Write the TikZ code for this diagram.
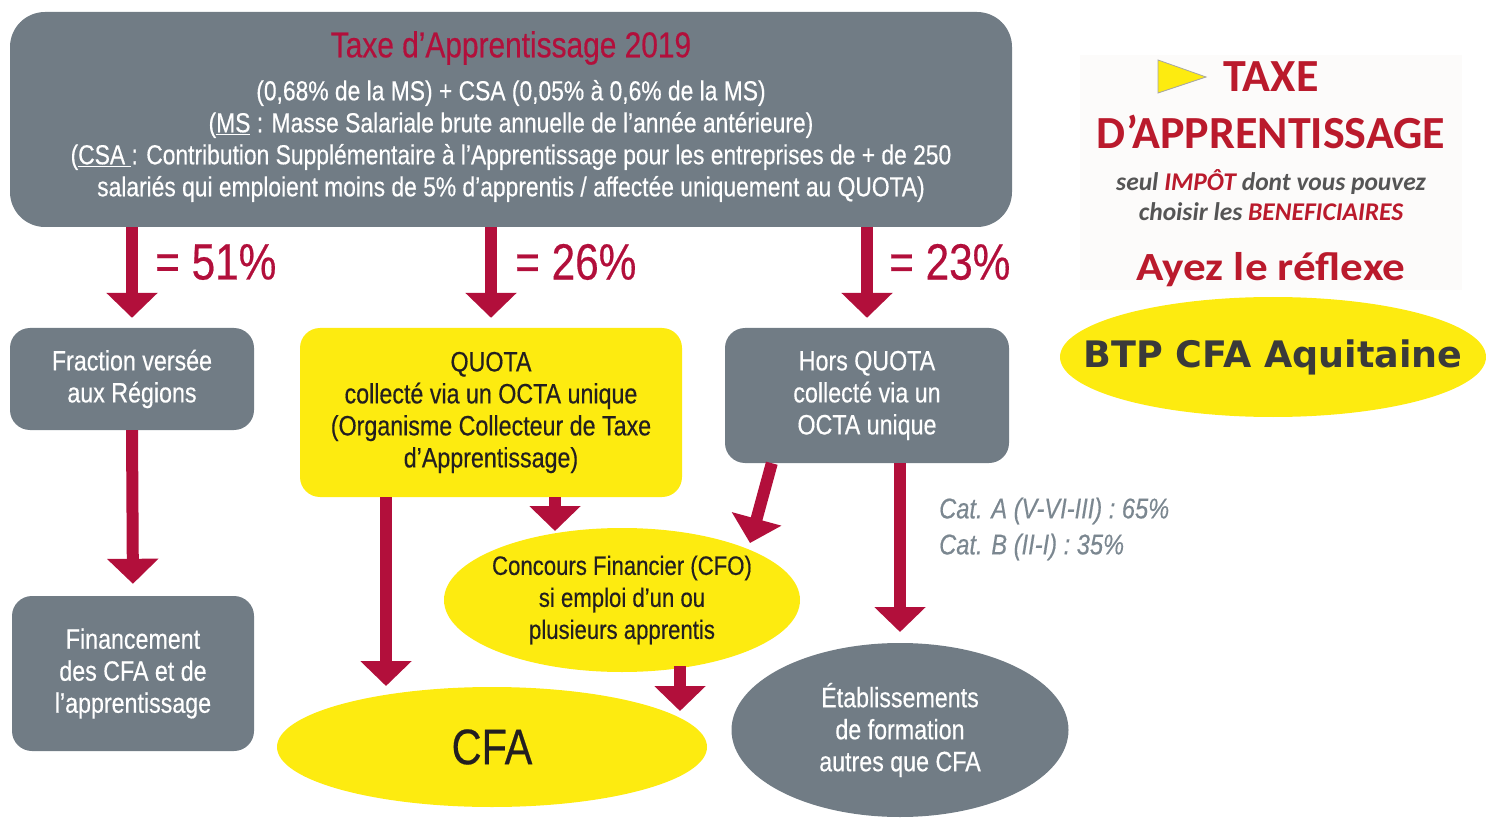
\documentclass[tikz,border=0pt]{standalone}
\usepackage{graphicx}
\usepackage{fontspec}
\setmainfont{Liberation Sans}[FakeStretch=0.83,FakeBold=0.4]
\newfontfamily\logofont{Carlito}
\newfontfamily\btpfont{DejaVu Sans}
\usetikzlibrary{arrows.meta,shapes.geometric,calc}
\definecolor{tgray}{HTML}{717C85}
\definecolor{tred}{HTML}{B20F3B}
\definecolor{tyellow}{HTML}{FDEB10}
\definecolor{ttext}{HTML}{231F20}
\definecolor{catgray}{HTML}{7B8790}
\definecolor{logored}{HTML}{BA1A2C}
\definecolor{logogray}{HTML}{555555}
\definecolor{btptext}{HTML}{3A3A3A}
\definecolor{logobg}{HTML}{FCFBFA}
\begin{document}
\begin{tikzpicture}[x=1pt,y=-1pt,
  graybox/.style={fill=tgray, rounded corners=20pt, text=white, align=center, inner sep=0pt,
    font=\fontsize{28}{32}\selectfont},
  yellowbox/.style={fill=tyellow, rounded corners=20pt, text=ttext, align=center, inner sep=0pt,
    font=\fontsize{28}{32}\selectfont},
  yellowell/.style={ellipse, fill=tyellow, inner sep=0pt},
  grayell/.style={ellipse, fill=tgray, inner sep=0pt},
  elltext/.style={align=center, inner sep=0pt, font=\fontsize{28}{32}\selectfont},
  arr/.style={draw=tred, fill=tred, line width=12pt, -{Triangle[width=50pt,length=25pt]}},
  pct/.style={anchor=west, text=tred, inner sep=0pt, font=\fontsize{51}{56}\selectfont},
  logo/.style={inner sep=0pt, font=\logofont\bfseries}
]
\useasboundingbox (0,0) rectangle (1486,818);

% top box
\node[graybox, minimum width=1002pt, minimum height=215pt, rounded corners=35pt] (top) at (511,119.5) {};
\node[inner sep=0pt, text=tred, font=\fontsize{36}{40}\selectfont] (title) at (511,48) {Taxe d’Apprentissage 2019};
\node[inner sep=0pt, text=white, align=center, font=\fontsize{27.5}{32}\selectfont] (toptext) at (511,141)
  {(0,68\% de la MS) + CSA (0,05\% à 0,6\% de la MS)\\
   (\underline{MS} : Masse Salariale brute annuelle de l’année antérieure)\\
   (\underline{CSA }: Contribution Supplémentaire à l’Apprentissage pour les entreprises de + de 250\\
   salariés qui emploient moins de 5\% d’apprentis / affectée uniquement au QUOTA)};

% second row
\node[graybox, minimum width=244pt, minimum height=102pt] (frac) at (132,379) {Fraction versée\\aux Régions};
\node[yellowbox, minimum width=382pt, minimum height=169pt] (quota) at (491,412.5)
  {QUOTA\\collecté via un OCTA unique\\(Organisme Collecteur de Taxe\\d’Apprentissage)};
\node[graybox, minimum width=284pt, minimum height=135pt] (hors) at (867,395.5)
  {Hors QUOTA\\collecté via un\\OCTA unique};

% lower nodes
\node[graybox, minimum width=242pt, minimum height=155pt] (fin) at (133,673.5)
  {Financement\\des CFA et de\\l’apprentissage};
\node[yellowell, minimum width=356pt, minimum height=144pt] (cfo) at (622,600) {};
\node[elltext, text=ttext, font=\fontsize{26.7}{32}\selectfont] (cfotxt) at (cfo.center)
  {Concours Financier (CFO)\\si emploi d’un ou\\plusieurs apprentis};
\node[yellowell, minimum width=430pt, minimum height=120pt] (cfa) at (492,747) {};
\node[elltext, text=ttext, font=\fontsize{50}{56}\selectfont] (cfatxt) at (cfa.center) {CFA};
\node[grayell, minimum width=337pt, minimum height=174pt] (etab) at (900,730) {};
\node[elltext, text=white] (etabtxt) at (etab.center)
  {Établissements\\de formation\\autres que CFA};

% percentages
\node[pct] (p51) at (155,262) {= 51\%};
\node[pct] (p26) at (515,262) {= 26\%};
\node[pct] (p23) at (889,262) {= 23\%};

% categories
\node[anchor=west, inner sep=0pt, text=catgray, align=left, font=\fontsize{28.5}{36}\selectfont\itshape] (cat) at (939,529)
  {Cat. A (V-VI-III) : 65\%\\Cat. B (II-I) : 35\%};

% arrows
\draw[arr, shorten >=10pt] (top.south -| frac.north) -- (frac.north);
\draw[arr, shorten >=10pt] (top.south -| quota.north) -- (quota.north);
\draw[arr, shorten >=10pt] (top.south -| hors.north) -- (hors.north);
\draw[arr, shorten >=12pt] (frac.south) -- (fin.north);

\coordinate (qa) at ($(quota.south)+(-105,0)$);
\coordinate (qaend) at (386,686);
\draw[arr] (qa) -- (qaend);
\coordinate (qb) at ($(quota.south)+(64,0)$);
\coordinate (qbend) at (555,531);
\draw[arr] (qb) -- (qbend);
\coordinate (ha) at ($(hors.south west)+(47,0)$);
\coordinate (haend) at (750,543);
\draw[arr] (ha) -- (haend);
\coordinate (hb) at ($(hors.south)+(33,0)$);
\coordinate (hbend) at (900,632);
\draw[arr] (hb) -- (hbend);
\coordinate (ca) at (680,666);
\coordinate (caend) at (680,711);
\draw[arr] (ca) -- (caend);

% logo
\fill[logobg] (1080,55) rectangle (1462,290);
\filldraw[fill=tyellow, draw=gray!70, line width=0.8pt] (1158,60) -- (1206,77) -- (1158,93) -- cycle;
\node[logo, text=logored, font=\logofont\bfseries\fontsize{46}{50}\selectfont] (taxe) at (1271,77) {TAXE};
\node[logo, text=logored, font=\logofont\bfseries\fontsize{46}{50}\selectfont] (dapp) at (1271,132) {D’APPRENTISSAGE};
\node[logo, text=logogray, font=\logofont\bfseries\itshape\fontsize{25.5}{28}\selectfont] (seul) at (1271,182)
  {seul \textcolor{logored}{IMPÔT} dont vous pouvez};
\node[logo, text=logogray, font=\logofont\bfseries\itshape\fontsize{25.5}{28}\selectfont] (choisir) at (1271,212)
  {choisir les \textcolor{logored}{BENEFICIAIRES}};
\node[logo, text=logored, font=\logofont\bfseries\fontsize{40}{44}\selectfont] (ayez) at (1271,270) {\scalebox{1.13}[1]{Ayez le réflexe}};
\node[ellipse, fill=tyellow, inner sep=0pt, minimum width=426pt, minimum height=120pt] (btp) at (1273,357) {};
\node[inner sep=0pt, text=btptext, font=\btpfont\bfseries\fontsize{36.5}{40}\selectfont] (btptxt) at (btp.center) {BTP CFA Aquitaine};
\end{tikzpicture}
\end{document}
